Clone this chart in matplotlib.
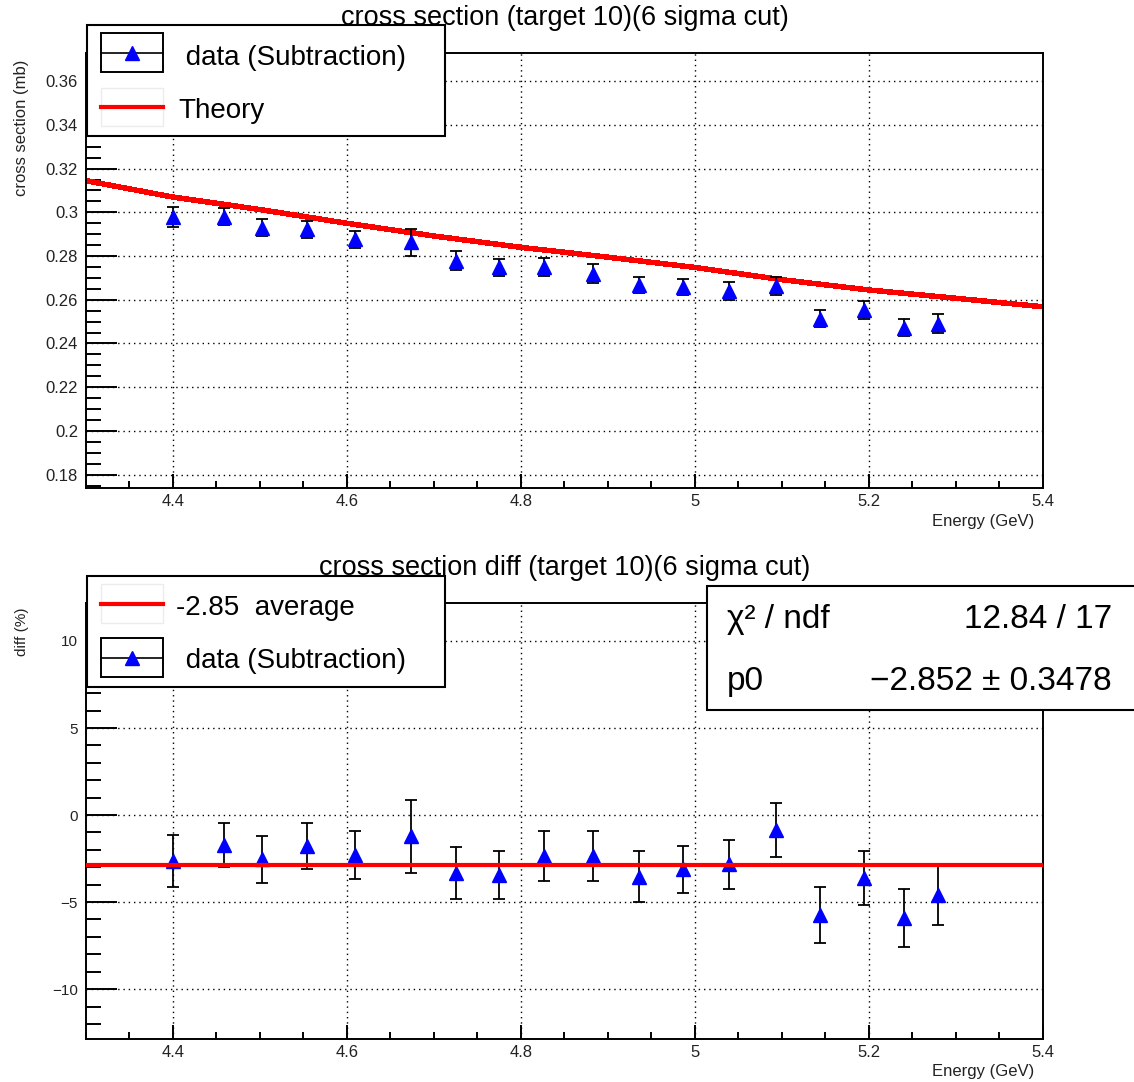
"""Cross section vs energy (target 10, 6 sigma cut) and its percent deviation from theory.

Two stacked ROOT-style panels: data points with a theory curve on top, and
(data - theory)/theory in % with a constant fit on the bottom.
"""

import matplotlib

matplotlib.use("Agg")
import matplotlib.pyplot as plt
from matplotlib.lines import Line2D
from matplotlib.patches import Rectangle
from matplotlib.ticker import FuncFormatter, MultipleLocator

plt.rcParams["font.family"] = ["Liberation Sans", "DejaVu Sans"]

W, H = 1134, 1082  # output size in pixels (dpi 100)

# --- data -----------------------------------------------------------------
ENERGY = [4.400, 4.459, 4.503, 4.554, 4.609, 4.674, 4.726, 4.775, 4.827,
          4.883, 4.936, 4.987, 5.040, 5.094, 5.144, 5.195, 5.241, 5.280]
XSEC = [0.2980, 0.2980, 0.2930, 0.2922, 0.2876, 0.2864, 0.2779, 0.2748, 0.2751,
        0.2720, 0.2667, 0.2659, 0.2640, 0.2663, 0.2514, 0.2554, 0.2472, 0.2491]
XSEC_ERR = [0.0045, 0.0038, 0.0040, 0.0040, 0.0040, 0.0062, 0.0042, 0.0037, 0.0041,
            0.0043, 0.0038, 0.0036, 0.0040, 0.0040, 0.0040, 0.0040, 0.0039, 0.0044]

THEORY_E = [4.3, 4.4, 4.5, 4.6, 4.7, 4.8, 4.9, 5.0, 5.1, 5.2, 5.3, 5.4]
THEORY_XS = [0.3145, 0.3070, 0.3013, 0.2950, 0.2892, 0.2840, 0.2795, 0.2748,
             0.2692, 0.2645, 0.2607, 0.2568]

DIFF = [-2.65, -1.74, -2.55, -1.80, -2.31, -1.23, -3.34, -3.46, -2.37,
        -2.37, -3.54, -3.12, -2.84, -0.88, -5.75, -3.62, -5.92, -4.62]
DIFF_ERR = [1.49, 1.26, 1.37, 1.32, 1.37, 2.11, 1.49, 1.37, 1.43,
            1.43, 1.46, 1.36, 1.43, 1.55, 1.61, 1.53, 1.66, 1.70]

FIT_P0 = -2.852
FIT_P0_ERR = 0.3478
FIT_CHI2 = 12.84
FIT_NDF = 17

TOP_TITLE = "cross section (target 10)(6 sigma cut)"
BOT_TITLE = "cross section diff (target 10)(6 sigma cut)"
TOP_YLABEL = "cross section (mb)"
BOT_YLABEL = "diff (%)"
XLABEL = "Energy (GeV)"
DATA_LABEL = " data (Subtraction)"
THEORY_LABEL = "Theory"
AVG_LABEL = f"{FIT_P0:.2f}  average"


def fx(x):
    return x / W


def fy(y):
    return 1.0 - y / H


def root_fmt(v, _pos):
    return f"{v:g}".replace("-", "\u2212")


def style_axes(ax, ylim, ymajor, yminor, ytick_size):
    ax.set_xlim(4.3, 5.4)
    ax.set_ylim(*ylim)
    ax.xaxis.set_major_locator(MultipleLocator(0.2))
    ax.xaxis.set_minor_locator(MultipleLocator(0.05))
    ax.yaxis.set_major_locator(MultipleLocator(ymajor))
    ax.yaxis.set_minor_locator(MultipleLocator(yminor))
    ax.xaxis.set_major_formatter(FuncFormatter(root_fmt))
    ax.yaxis.set_major_formatter(FuncFormatter(root_fmt))
    ax.tick_params(axis="y", which="major", direction="in", length=22, width=1.4,
                   pad=5.5, labelsize=ytick_size, labelcolor="#222222")
    ax.tick_params(axis="y", which="minor", direction="in", length=11, width=1.4)
    ax.tick_params(axis="x", which="major", direction="in", length=10, width=1.4,
                   pad=4.5, labelsize=12, labelcolor="#222222")
    ax.tick_params(axis="x", which="minor", direction="in", length=5, width=1.4)
    ax.grid(True, which="major", color="black", linestyle=(0, (1, 2.8)), linewidth=1.0)
    ax.set_axisbelow(True)
    for s in ax.spines.values():
        s.set_linewidth(1.4)


def draw_points(ax, y, yerr):
    ax.errorbar(ENERGY, y, yerr=yerr, fmt="^", color="blue", mec="blue", ms=10,
                ecolor="black", elinewidth=1.3, capsize=4, capthick=1.3, zorder=3)


def add_box(fig, x0, y0, x1, y1, edge="black", lw=1.5, z=10):
    fig.add_artist(Rectangle((fx(x0), fy(y1)), fx(x1) - fx(x0), fy(y0) - fy(y1),
                             transform=fig.transFigure, facecolor="white",
                             edgecolor=edge, linewidth=lw, zorder=z, clip_on=False))


def data_symbol(fig, x0, y0, x1, y1):
    add_box(fig, x0, y0, x1, y1, lw=1.4, z=11)
    ym = (y0 + y1) / 2
    fig.add_artist(Line2D([fx(x0), fx(x1)], [fy(ym), fy(ym)], transform=fig.transFigure,
                          color="black", lw=1.2, zorder=12))
    fig.add_artist(Line2D([fx((x0 + x1) / 2)], [fy(ym)], transform=fig.transFigure,
                          marker="^", ms=10, color="blue", mec="blue", zorder=13))


def line_symbol(fig, x0, y0, x1, y1):
    add_box(fig, x0, y0, x1, y1, edge="#ececec", lw=1.0, z=11)
    ym = (y0 + y1) / 2
    fig.add_artist(Line2D([fx(x0), fx(x1)], [fy(ym), fy(ym)], transform=fig.transFigure,
                          color="red", lw=3, zorder=12))


def main():
    fig = plt.figure(figsize=(W / 100, H / 100), dpi=100)
    fig.patch.set_facecolor("white")

    # ---- top panel ----
    ax1 = fig.add_axes([fx(85.7), fy(488.2), (1042.7 - 85.7) / W, 435 / H])
    style_axes(ax1, (0.1738, 0.3728), 0.02, 0.005, 12)
    ax1.plot(THEORY_E, THEORY_XS, color="red", lw=3.2, antialiased=False, zorder=2)
    draw_points(ax1, XSEC, XSEC_ERR)

    # ---- bottom panel ----
    ax2 = fig.add_axes([fx(85.7), fy(1038.7), (1042.7 - 85.7) / W, 436 / H])
    style_axes(ax2, (-12.85, 12.2), 5, 1, 11)
    draw_points(ax2, DIFF, DIFF_ERR)
    ax2.axhline(FIT_P0, color="red", lw=3, zorder=4)

    # ---- titles and axis labels ----
    fig.text(fx(565), fy(25), TOP_TITLE, ha="center", va="baseline", fontsize=19.5, zorder=5)
    fig.text(fx(565), fy(575), BOT_TITLE, ha="center", va="baseline", fontsize=19.5, zorder=5)
    fig.text(fx(22), fy(60), TOP_YLABEL, rotation=90, ha="center", va="top",
             fontsize=12, color="#222222")
    fig.text(fx(22), fy(608), BOT_YLABEL, rotation=90, ha="center", va="top",
             fontsize=11, color="#222222")
    fig.text(fx(1034), fy(526), XLABEL, ha="right", va="baseline", fontsize=12,
             color="#222222")
    fig.text(fx(1034), fy(1076), XLABEL, ha="right", va="baseline", fontsize=12,
             color="#222222")

    # ---- top legend ----
    add_box(fig, 87, 25, 445, 136)
    data_symbol(fig, 101, 33, 163, 72)
    fig.text(fx(178), fy(65), DATA_LABEL, ha="left", va="baseline", fontsize=20, zorder=14)
    line_symbol(fig, 101, 88, 163, 126)
    fig.text(fx(178), fy(118), THEORY_LABEL, ha="left", va="baseline", fontsize=20, zorder=14)

    # ---- bottom legend ----
    add_box(fig, 87, 576, 445, 687)
    line_symbol(fig, 101, 584, 163, 623)
    fig.text(fx(176), fy(615), AVG_LABEL, ha="left", va="baseline", fontsize=20, zorder=14)
    data_symbol(fig, 101, 638, 163, 677)
    fig.text(fx(178), fy(668), DATA_LABEL, ha="left", va="baseline", fontsize=20, zorder=14)

    # ---- fit stats box ----
    add_box(fig, 707, 586, 1160, 709.5)
    fig.text(fx(727), fy(628), "\u03c7\u00b2 / ndf", ha="left", va="baseline",
             fontsize=24, zorder=14)
    fig.text(fx(1112), fy(628), f"{FIT_CHI2:.2f} / {FIT_NDF}", ha="right",
             va="baseline", fontsize=24, zorder=14)
    fig.text(fx(727), fy(690), "p0", ha="left", va="baseline", fontsize=24, zorder=14)
    fig.text(fx(1112), fy(690), f"{FIT_P0:.3f} \u00b1 {FIT_P0_ERR:.4f}".replace("-", "\u2212"),
             ha="right", va="baseline", fontsize=24, zorder=14)

    fig.savefig("out.png", dpi=100)
    plt.close(fig)


if __name__ == "__main__":
    main()
